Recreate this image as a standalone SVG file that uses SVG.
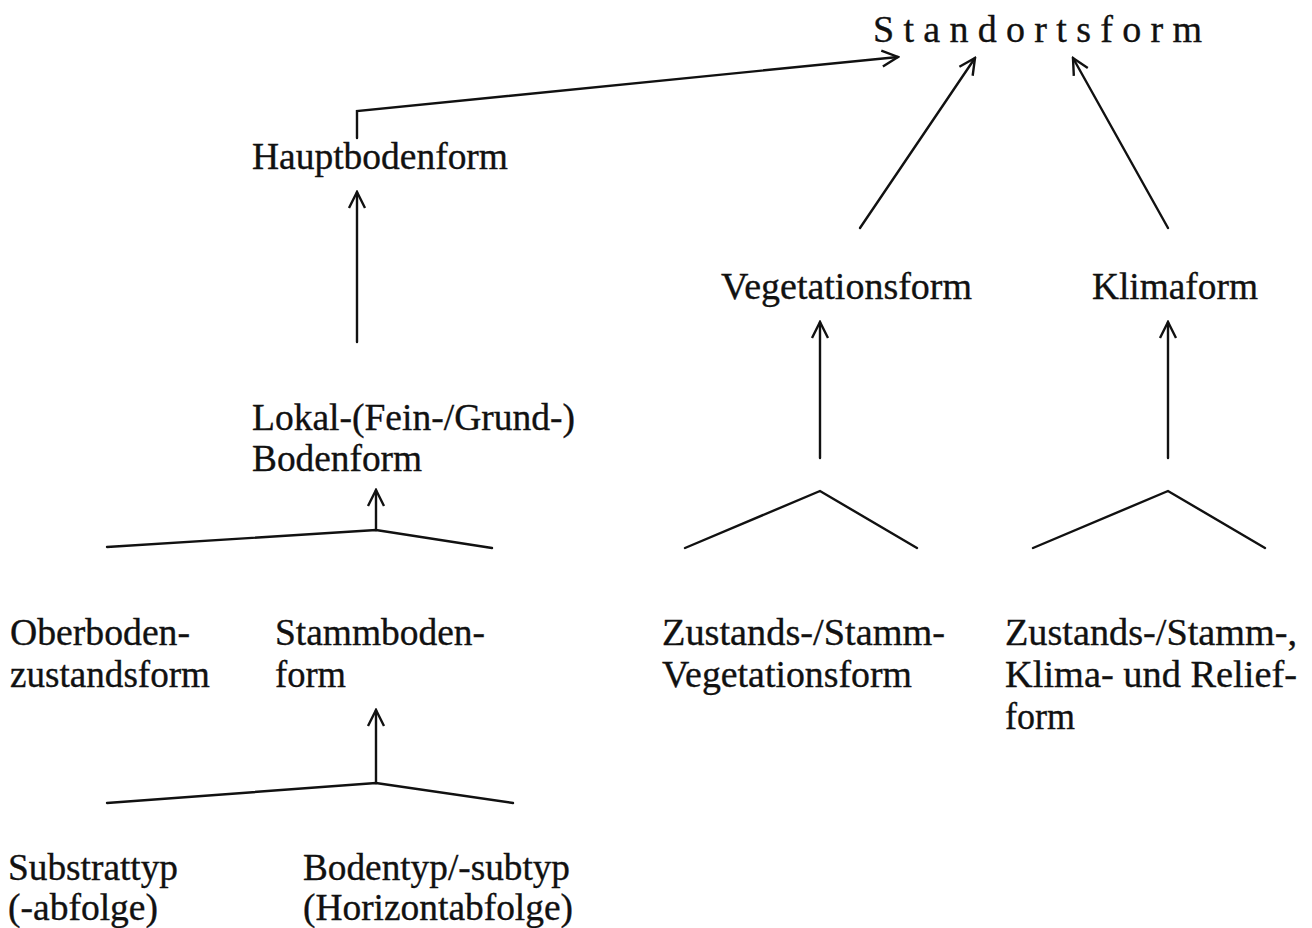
<svg xmlns="http://www.w3.org/2000/svg" width="1312" height="928" viewBox="0 0 1312 928">
<style>
text{font-family:"Liberation Serif","Times New Roman",serif;font-size:38px;fill:#111;stroke:#111;stroke-width:0.35}
.c{fill:none;stroke:#111;stroke-width:2.4;stroke-linecap:round;stroke-linejoin:miter}
</style>
<defs>
<marker id="a" viewBox="0 0 20 20" refX="18" refY="10" markerWidth="20" markerHeight="20" markerUnits="userSpaceOnUse" orient="auto">
<path d="M2,2 L18,10 L2,18" fill="none" stroke="#111" stroke-width="2.4"/>
</marker>
</defs>
<rect width="1312" height="928" fill="#fff"/>
<g id="connectors">
<polyline class="c" points="357,138 357,111 898,57" marker-end="url(#a)"/>
<line class="c" x1="860" y1="228" x2="975" y2="58" marker-end="url(#a)"/>
<line class="c" x1="1168" y1="228" x2="1073" y2="58" marker-end="url(#a)"/>
<line class="c" x1="357" y1="342" x2="357" y2="192" marker-end="url(#a)"/>
<line class="c" x1="820" y1="458" x2="820" y2="322" marker-end="url(#a)"/>
<line class="c" x1="1168" y1="458" x2="1168" y2="322" marker-end="url(#a)"/>
<polyline class="c" points="685,548 820,491 917,548"/>
<polyline class="c" points="1033,548 1168,491 1265,548"/>
<polyline class="c" points="107,547 376,530 492,548"/>
<line class="c" x1="376" y1="530" x2="376" y2="490" marker-end="url(#a)"/>
<polyline class="c" points="107,803 376,783 513,803"/>
<line class="c" x1="376" y1="783" x2="376" y2="710" marker-end="url(#a)"/>
</g>
<g id="standortsform"><text x="873" y="42" textLength="329" lengthAdjust="spacing">Standortsform</text></g>
<g id="hauptbodenform"><text x="252" y="169" textLength="256" lengthAdjust="spacingAndGlyphs">Hauptbodenform</text></g>
<g id="vegetationsform"><text x="721" y="299" textLength="251" lengthAdjust="spacingAndGlyphs">Vegetationsform</text></g>
<g id="klimaform"><text x="1092" y="299" textLength="166" lengthAdjust="spacingAndGlyphs">Klimaform</text></g>
<g id="lokalbodenform"><text x="252" y="430" textLength="323" lengthAdjust="spacingAndGlyphs">Lokal-(Fein-/Grund-)</text><text x="252" y="471" textLength="170" lengthAdjust="spacingAndGlyphs">Bodenform</text></g>
<g id="oberboden"><text x="10" y="645" textLength="180" lengthAdjust="spacingAndGlyphs">Oberboden-</text><text x="10" y="687" textLength="200" lengthAdjust="spacingAndGlyphs">zustandsform</text></g>
<g id="stammboden"><text x="275" y="645" textLength="210" lengthAdjust="spacingAndGlyphs">Stammboden-</text><text x="275" y="687" textLength="71" lengthAdjust="spacingAndGlyphs">form</text></g>
<g id="zustandsvegetation"><text x="662" y="645" textLength="283" lengthAdjust="spacingAndGlyphs">Zustands-/Stamm-</text><text x="662" y="687" textLength="250" lengthAdjust="spacingAndGlyphs">Vegetationsform</text></g>
<g id="zustandsklima"><text x="1005" y="645" textLength="292" lengthAdjust="spacingAndGlyphs">Zustands-/Stamm-,</text><text x="1005" y="687" textLength="292" lengthAdjust="spacingAndGlyphs">Klima- und Relief-</text><text x="1005" y="729" textLength="70" lengthAdjust="spacingAndGlyphs">form</text></g>
<g id="substrattyp"><text x="8" y="880" textLength="170" lengthAdjust="spacingAndGlyphs">Substrattyp</text><text x="8" y="920" textLength="150" lengthAdjust="spacingAndGlyphs">(-abfolge)</text></g>
<g id="bodentyp"><text x="303" y="880" textLength="267" lengthAdjust="spacingAndGlyphs">Bodentyp/-subtyp</text><text x="303" y="920" textLength="270" lengthAdjust="spacingAndGlyphs">(Horizontabfolge)</text></g>
</svg>
